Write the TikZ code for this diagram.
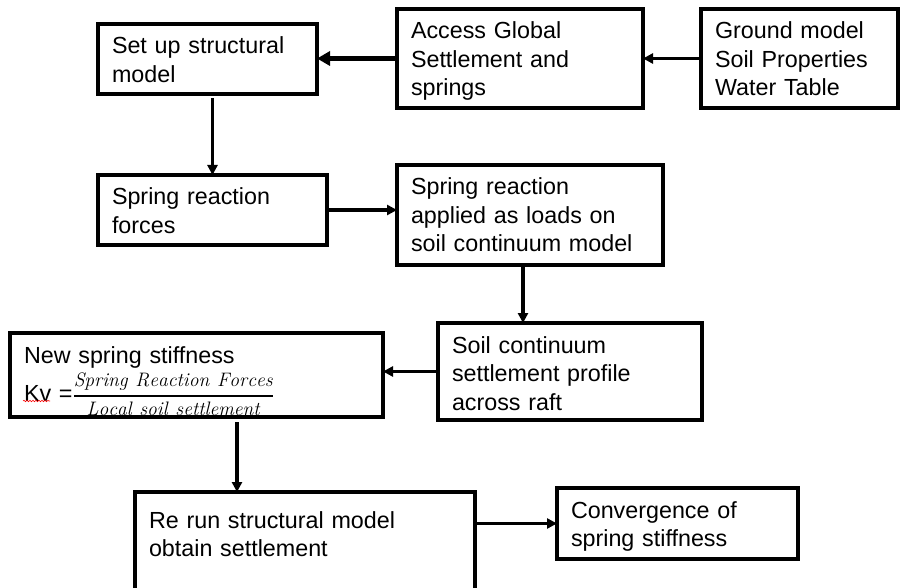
\documentclass[tikz,border=0pt]{standalone}
\usepackage{fontspec}
\setsansfont{Liberation Sans}
\usetikzlibrary{arrows.meta,decorations.pathmorphing}
\begin{document}
\begin{tikzpicture}[x=1pt,y=-1pt,
    stage/.style={draw, line width=3.3pt, outer sep=0pt, anchor=north west, align=left,
      inner xsep=14pt, inner ysep=13pt, text height=17pt,
      font=\sffamily\fontsize{23.3}{28.5}\selectfont},
    flow/.style={line width=3.2pt, -{Triangle[length=10pt,width=10pt]}},
    bigflow/.style={line width=5.5pt, -{Triangle[length=13pt,width=14pt]}}]
  \useasboundingbox (0,0) rectangle (900,588);

  \node[stage, text width=191pt, text depth=27pt] (setup) at (98,24) {Set up structural\\model};
  \node[stage, text width=218pt, text depth=56pt] (access) at (397,9) {Access Global\\Settlement and\\springs};
  \node[stage, text width=169pt, text depth=56pt] (ground) at (701,9) {Ground model\\Soil Properties\\Water Table};
  \draw[bigflow] (access.west) -- (access.west -| setup.east);
  \draw[flow] (ground.west) -- (access.east);

  \node[stage, text width=201pt, text depth=27pt] (forces) at (98,175) {Spring reaction\\forces};
  \node[stage, text width=238pt, text depth=57pt] (applied) at (397,165) {Spring reaction\\applied as loads on\\soil continuum model};
  \draw[flow, shorten <=4pt] (setup.south -| forces.north) -- (forces.north);
  \draw[flow] (forces.east) -- (forces.east -| applied.west);

  \node[stage, text width=236pt, text depth=54pt] (continuum) at (438,323) {Soil continuum\\settlement profile\\across raft};
  \node[stage, text width=345pt, text depth=41pt] (stiffness) at (10,333) {New spring stiffness\\[4pt]Kv ={\fontsize{19.5}{23}\selectfont$\displaystyle{\mathit{Spring\ Reaction\ Forces}\above 1.6pt\mathit{Local\ soil\ settlement}}$}};
  \coordinate (down2) at (523,0);
  \draw[flow] (applied.south -| down2) -- (continuum.north -| down2);
  \draw[flow] (continuum.west) -- (continuum.west -| stiffness.east);
  \draw[red, line width=0.6pt, decorate, decoration={snake, amplitude=0.7pt, segment length=3pt}] (23,401) -- (50,401);

  \node[stage, text width=312pt, text height=23pt, text depth=57pt] (rerun) at (135,492) {Re run structural model\\obtain settlement};
  \node[stage, text width=213pt, text depth=28pt] (converge) at (557,488) {Convergence of\\spring stiffness};
  \coordinate (down3) at (237,0);
  \draw[flow, shorten <=5pt] (stiffness.south -| down3) -- (rerun.north -| down3);
  \draw[flow] (rerun.east |- converge.west) -- (converge.west);
\end{tikzpicture}
\end{document}
